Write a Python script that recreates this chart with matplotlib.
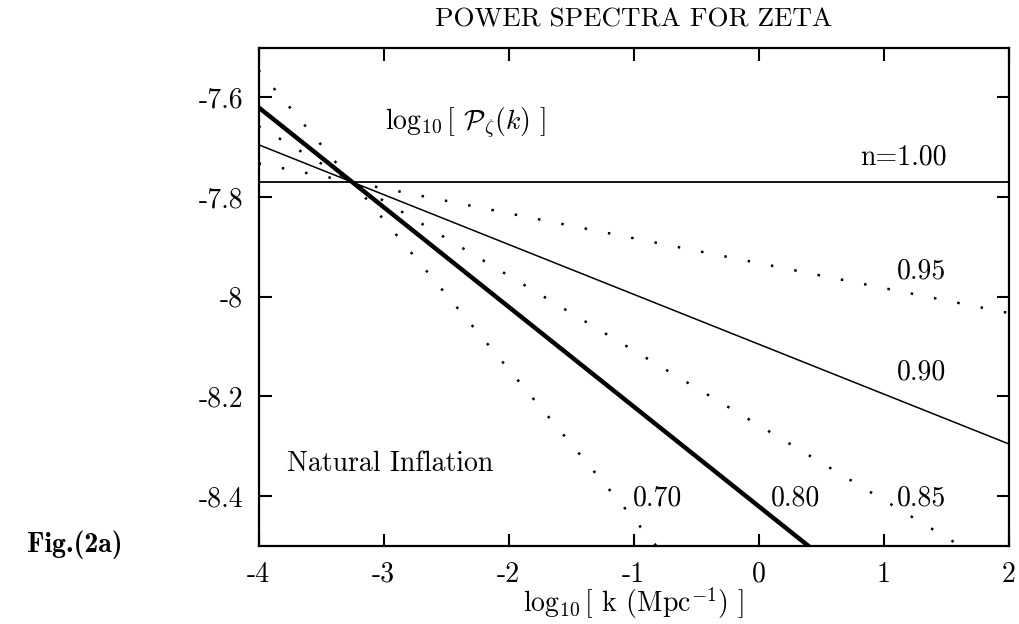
import matplotlib
matplotlib.use('Agg')
import matplotlib.pyplot as plt

plt.rcParams['font.family'] = 'cmr10'
plt.rcParams['mathtext.fontset'] = 'cm'
plt.rcParams['axes.unicode_minus'] = False

# end points of each spectrum (log10 k = -4 and 2)
x_ends = [-4, 2]
y_100 = [-7.77, -7.77]
y_095 = [-7.7325, -8.0325]
y_090 = [-7.695, -8.295]
y_085 = [-7.6575, -8.5575]
y_080 = [-7.62, -8.82]
y_070 = [-7.545, -9.345]

xticks = [-4, -3, -2, -1, 0, 1, 2]
xtick_labels = ['-4', '-3', '-2', '-1', '0', '1', '2']
yticks = [-8.4, -8.2, -8.0, -7.8, -7.6]
ytick_labels = ['-8.4', '-8.2', '-8', '-7.8', '-7.6']

fig = plt.figure(figsize=(10.19, 6.24), dpi=100)
ax = fig.add_axes([258.5 / 1019, 78 / 624, 750 / 1019, 498.5 / 624])

dots = (0, (1, 8.5))
ax.plot(x_ends, y_100, color='black', lw=1.3)
ax.plot(x_ends, y_095, color='black', lw=1.8, ls=dots)
ax.plot(x_ends, y_090, color='black', lw=1.1)
ax.plot(x_ends, y_085, color='black', lw=1.8, ls=dots)
ax.plot(x_ends, y_080, color='black', lw=3.2)
ax.plot(x_ends, y_070, color='black', lw=1.8, ls=dots)

ax.set_xlim(-4, 2)
ax.set_ylim(-8.5, -7.5)
ax.set_xticks(xticks)
ax.set_xticklabels(xtick_labels)
ax.set_yticks(yticks)
ax.set_yticklabels(ytick_labels)
ax.tick_params(direction='in', length=9, width=1.5, labelsize=20, pad=11)
ax.tick_params(axis='x', top=True)
ax.tick_params(axis='y', right=True)
for s in ax.spines.values():
    s.set_linewidth(1.6)

lab = dict(fontsize=20, ha='center', va='center')
ax.text(1.16, -7.72, 'n=1.00', **lab)
ax.text(1.30, -7.95, '0.95', **lab)
ax.text(1.30, -8.152, '0.90', **lab)
ax.text(1.30, -8.405, '0.85', **lab)
ax.text(0.30, -8.405, '0.80', **lab)
ax.text(-0.81, -8.405, '0.70', **lab)
ax.text(-2.95, -8.335, 'Natural Inflation', **lab)
ax.text(-2.34, -7.65, r'$\log_{10}$[ $\mathcal{P}_\zeta(k)$ ]', **lab)

fig.text(633.5 / 1019, 1 - 20 / 624, 'POWER SPECTRA FOR ZETA', fontsize=19.5, ha='center', va='center')
fig.text(633.5 / 1019, 1 - 603 / 624, r'$\log_{10}$[ k (Mpc$^{-1}$) ]', fontsize=20, ha='center', va='center')
fig.text(122 / 1019, 1 - 545 / 624, 'Fig.(2a)', family='cmb10', fontsize=20, ha='right', va='center')

fig.savefig('out.png', dpi=100)
